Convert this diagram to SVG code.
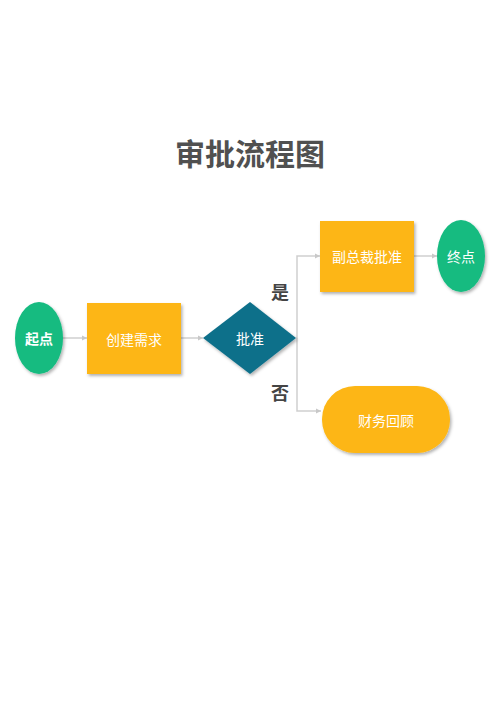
<svg xmlns="http://www.w3.org/2000/svg" width="500" height="707" viewBox="0 0 500 707">
<defs>
<filter id="sh" x="-20%" y="-20%" width="150%" height="150%">
<feDropShadow dx="1.5" dy="2" stdDeviation="1.5" flood-color="#000" flood-opacity="0.3"/>
</filter>
<marker id="arr" markerWidth="6" markerHeight="6" refX="5" refY="3" orient="auto" markerUnits="userSpaceOnUse">
<path d="M0,0.5 L5,3 L0,5.5 Z" fill="#c8c8c8"/>
</marker>
<style>
.ln{fill:none;stroke:#cfcfcf;stroke-width:1.5}
.green{fill:#15bb80}
.yellow{fill:#fdb614}
.teal{fill:#0f6f8a}
.t{font-family:"Noto Sans CJK SC","Liberation Sans",sans-serif;fill:#fff;font-size:14px;text-anchor:middle;dominant-baseline:central}
.lbl{font-family:"Noto Sans CJK SC","Liberation Sans",sans-serif;fill:#444;font-size:18px;font-weight:bold;text-anchor:middle;dominant-baseline:central}
</style>
</defs>
<rect width="500" height="707" fill="#fff"/>
<text x="250" y="152" font-family="Noto Sans CJK SC, Liberation Sans, sans-serif" font-size="30" font-weight="bold" fill="#505050" text-anchor="middle" dominant-baseline="central">审批流程图</text>
<g id="connectors">
<line class="ln" x1="63" y1="338" x2="87" y2="338" marker-end="url(#arr)"/>
<line class="ln" x1="181" y1="338" x2="203" y2="338" marker-end="url(#arr)"/>
<polyline class="ln" points="296,338 297,338 297,256 320,256" marker-end="url(#arr)"/>
<polyline class="ln" points="297,338 297,411 321,411" marker-end="url(#arr)"/>
<line class="ln" x1="414" y1="256" x2="437" y2="256" marker-end="url(#arr)"/>
</g>
<g id="start">
<ellipse class="green" cx="39" cy="338" rx="24" ry="36" filter="url(#sh)"/>
<text class="t" x="39" y="338" font-weight="bold" font-size="15">起点</text>
</g>
<g id="create">
<rect class="yellow" x="87" y="303" width="94" height="71" filter="url(#sh)"/>
<text class="t" x="134" y="339">创建需求</text>
</g>
<g id="approve">
<polygon class="teal" points="250,302 296,338 250,374 203,338" filter="url(#sh)"/>
<text class="t" x="250" y="338" font-size="15">批准</text>
</g>
<g id="yes"><text class="lbl" x="280" y="291">是</text></g>
<g id="no"><text class="lbl" x="280" y="392">否</text></g>
<g id="vp">
<rect class="yellow" x="320" y="221" width="94" height="71" filter="url(#sh)"/>
<text class="t" x="367" y="256" font-size="15">副总裁批准</text>
</g>
<g id="end">
<ellipse class="green" cx="461" cy="256" rx="24" ry="36" filter="url(#sh)"/>
<text class="t" x="461" y="256" font-size="13">终点</text>
</g>
<g id="finance">
<rect class="yellow" x="322" y="386" width="128" height="67" rx="33" ry="33" filter="url(#sh)"/>
<text class="t" x="386" y="420" font-size="15">财务回顾</text>
</g>
</svg>
